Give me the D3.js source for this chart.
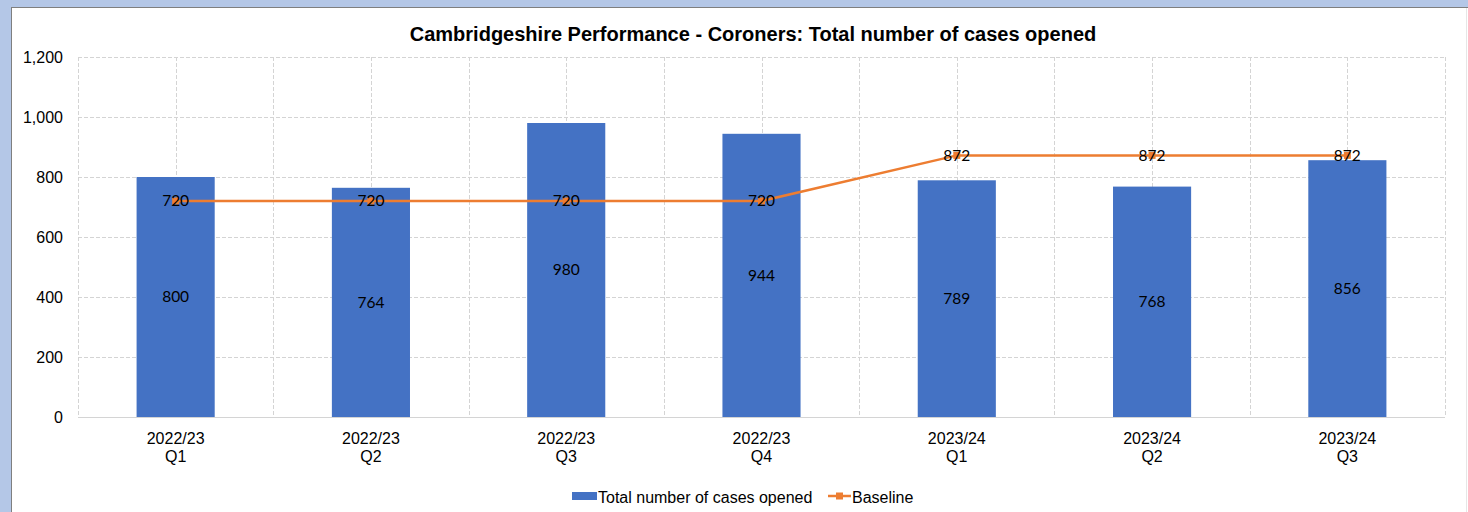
<!DOCTYPE html>
<html>
<head>
<meta charset="utf-8">
<script src="https://cdn.jsdelivr.net/npm/d3@7"></script>
<style>
  html, body { margin: 0; padding: 0; background: #b4c7e7; }
  svg { display: block; }
</style>
</head>
<body>
<svg id="chart" width="1468" height="512"></svg>
<script>
// Quarterly coroner case counts and baseline
const categories = ["2022/23|Q1", "2022/23|Q2", "2022/23|Q3", "2022/23|Q4", "2023/24|Q1", "2023/24|Q2", "2023/24|Q3"];
const casesOpened = [800, 764, 980, 944, 789, 768, 856];
const baseline = [720, 720, 720, 720, 872, 872, 872];
const yTicks = [0, 200, 400, 600, 800, 1000, 1200];

const W = 1468, H = 512;
const svg = d3.select("#chart");

// panel with a dark edge on the top and left
svg.append("rect").attr("x", 11).attr("y", 7).attr("width", W - 11).attr("height", H - 7).attr("fill", "#7f7f7f");
svg.append("rect").attr("x", 12).attr("y", 8).attr("width", W - 12).attr("height", H - 8).attr("fill", "#ffffff");
svg.append("line").attr("x1", 1466.5).attr("x2", 1466.5).attr("y1", 8).attr("y2", H)
  .attr("stroke", "#e6e6e6").attr("stroke-width", 1);

const plot = { left: 78, right: 1445, top: 57, bottom: 417 };

const x = d3.scaleBand().domain(categories).range([plot.left, plot.right]).paddingInner(0).paddingOuter(0);
const y = d3.scaleLinear().domain([0, 1200]).range([plot.bottom, plot.top]);
const bw = x.bandwidth();
const barW = bw * 0.4;

const labelFont = "Lato, 'Open Sans', sans-serif";
const axisFont = "'Liberation Sans', Arial, sans-serif";

const grid = svg.append("g");
// horizontal grid
grid.selectAll("line.h").data(yTicks).join("line")
  .attr("x1", plot.left).attr("x2", plot.right)
  .attr("y1", d => y(d) + 0.5).attr("y2", d => y(d) + 0.5)
  .attr("stroke", "#d4d4d4").attr("stroke-width", 1)
  .attr("stroke-dasharray", d => d === 0 ? null : "4,2");
// vertical grid at band edges and centres
const vPos = [];
categories.forEach(c => { vPos.push(x(c)); vPos.push(x(c) + bw / 2); });
vPos.push(plot.right);
grid.selectAll("line.v").data(vPos).join("line")
  .attr("x1", d => Math.round(d) + 0.5).attr("x2", d => Math.round(d) + 0.5)
  .attr("y1", plot.top).attr("y2", plot.bottom)
  .attr("stroke", "#d4d4d4").attr("stroke-width", 1)
  .attr("stroke-dasharray", "4,2");

// bars
svg.append("g").selectAll("rect").data(casesOpened).join("rect")
  .attr("x", (d, i) => x(categories[i]) + (bw - barW) / 2)
  .attr("width", barW)
  .attr("y", d => y(d))
  .attr("height", d => y(0) - y(d))
  .attr("fill", "#4472c4");

// bar value labels
svg.append("g").selectAll("text").data(casesOpened).join("text")
  .attr("x", (d, i) => x(categories[i]) + bw / 2)
  .attr("y", d => y(d / 2))
  .attr("dy", "0.35em")
  .attr("text-anchor", "middle")
  .attr("font-family", labelFont)
  .attr("font-size", 15.5)
  .attr("fill", "#000")
  .text(d => d);

// baseline line
const line = d3.line().x((d, i) => x(categories[i]) + bw / 2).y(d => y(d));
svg.append("path").datum(baseline)
  .attr("d", line).attr("fill", "none")
  .attr("stroke", "#ed7d31").attr("stroke-width", 2.5);
svg.append("g").selectAll("rect").data(baseline).join("rect")
  .attr("x", (d, i) => x(categories[i]) + bw / 2 - 3.5)
  .attr("y", d => y(d) - 3.5)
  .attr("width", 7).attr("height", 7)
  .attr("fill", "#ed7d31");
svg.append("g").selectAll("text").data(baseline).join("text")
  .attr("x", (d, i) => x(categories[i]) + bw / 2)
  .attr("y", d => y(d))
  .attr("dy", "0.35em")
  .attr("text-anchor", "middle")
  .attr("font-family", labelFont)
  .attr("font-size", 15.5)
  .attr("fill", "#000")
  .text(d => d);

// y axis labels
svg.append("g").selectAll("text").data(yTicks).join("text")
  .attr("x", 63).attr("y", d => y(d))
  .attr("dy", "0.35em")
  .attr("text-anchor", "end")
  .attr("font-family", axisFont)
  .attr("font-size", 16)
  .attr("fill", "#000")
  .text(d => d3.format(",")(d));

// x axis labels (two lines)
const xl = svg.append("g").selectAll("text").data(categories).join("text")
  .attr("x", d => x(d) + bw / 2)
  .attr("y", 444)
  .attr("text-anchor", "middle")
  .attr("font-family", axisFont)
  .attr("font-size", 16)
  .attr("fill", "#000");
xl.each(function(d) {
  const parts = d.split("|");
  const t = d3.select(this);
  t.append("tspan").attr("x", x(d) + bw / 2).attr("dy", 0).text(parts[0]);
  t.append("tspan").attr("x", x(d) + bw / 2).attr("dy", 17.5).text(parts[1]);
});

// title
svg.append("text")
  .attr("x", 753).attr("y", 41)
  .attr("text-anchor", "middle")
  .attr("font-family", axisFont)
  .attr("font-size", 20).attr("font-weight", "bold")
  .attr("fill", "#000")
  .text("Cambridgeshire Performance - Coroners: Total number of cases opened");

// legend
const lg = svg.append("g").attr("font-family", axisFont).attr("font-size", 16);
lg.append("rect").attr("x", 572).attr("y", 492).attr("width", 25).attr("height", 8).attr("fill", "#4472c4");
lg.append("text").attr("x", 598).attr("y", 502.5).text("Total number of cases opened");
lg.append("line").attr("x1", 828).attr("x2", 851).attr("y1", 496).attr("y2", 496)
  .attr("stroke", "#ed7d31").attr("stroke-width", 2.5);
lg.append("rect").attr("x", 836).attr("y", 492.5).attr("width", 7).attr("height", 7).attr("fill", "#ed7d31");
lg.append("text").attr("x", 852).attr("y", 502.5).text("Baseline");
</script>
</body>
</html>
